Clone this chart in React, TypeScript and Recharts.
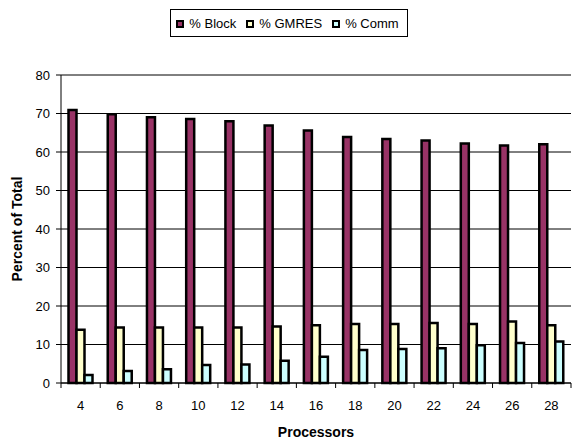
import React from 'react';
import { BarChart, Bar, XAxis, YAxis, CartesianGrid, Legend } from 'recharts';

// Share of total run time per phase, by processor count
const processors = [4, 6, 8, 10, 12, 14, 16, 18, 20, 22, 24, 26, 28];
const blockPct = [70.9, 69.8, 69.0, 68.6, 68.0, 66.9, 65.6, 63.9, 63.4, 63.0, 62.2, 61.7, 62.0];
const gmresPct = [13.8, 14.4, 14.4, 14.4, 14.4, 14.7, 15.0, 15.3, 15.3, 15.6, 15.3, 16.0, 15.0];
const commPct = [2.1, 3.1, 3.6, 4.7, 4.8, 5.8, 6.8, 8.6, 8.8, 9.0, 9.8, 10.4, 10.8];
const yTicks = [0, 10, 20, 30, 40, 50, 60, 70, 80];

const seriesKeys = ['block', 'gmres', 'comm'];
const seriesNames = ['% Block', '% GMRES', '% Comm'];
const seriesColors = ['#993366', '#FFFFCC', '#CCFFFF'];

const data = processors.map((p, i) => ({
  proc: p,
  block: blockPct[i],
  gmres: gmresPct[i],
  comm: commPct[i],
}));

const FONT = '"Liberation Sans", Arial, sans-serif';
const X_TICK_SIZE = 5;
const X_TICK_MARGIN = 13;

// Category label plus Excel-style tick marks on the band boundaries
const ProcTick = (props: any) => {
  const { x, y, payload, index, width, visibleTicksCount } = props;
  const half = width / visibleTicksCount / 2;
  const lineTop = y - X_TICK_MARGIN - X_TICK_SIZE;
  const lineBottom = y - X_TICK_MARGIN;
  return (
    <g>
      {index === 0 && (
        <line x1={x - half} x2={x - half} y1={lineTop} y2={lineBottom} stroke="#000" />
      )}
      <line x1={x + half} x2={x + half} y1={lineTop} y2={lineBottom} stroke="#000" />
      <text x={x} y={y} dy="0.71em" textAnchor="middle" fill="#000" fontSize={13} fontFamily={FONT}>
        {payload.value}
      </text>
    </g>
  );
};

const YTitle = (props: any) => {
  const vb = props.viewBox;
  const cx = vb.x + 17;
  const cy = vb.y + vb.height / 2;
  return (
    <text
      x={cx}
      y={cy}
      transform={`rotate(-90 ${cx} ${cy})`}
      textAnchor="middle"
      dominantBaseline="central"
      fontSize={14}
      fontWeight="bold"
      fontFamily={FONT}
      fill="#000"
    >
      {props.value}
    </text>
  );
};

const XTitle = (props: any) => {
  const vb = props.viewBox;
  return (
    <text
      x={vb.x + vb.width / 2}
      y={vb.y + 49}
      textAnchor="middle"
      dominantBaseline="central"
      fontSize={14}
      fontWeight="bold"
      fontFamily={FONT}
      fill="#000"
    >
      {props.value}
    </text>
  );
};

// Boxed legend, items kept in series order
const LegendBox = (props: any) => {
  const items = [...(props.payload || [])].sort(
    (a: any, b: any) => seriesNames.indexOf(a.value) - seriesNames.indexOf(b.value)
  );
  return (
    <div style={{ height: 66, display: 'flex', justifyContent: 'center', alignItems: 'flex-start', paddingLeft: 7 }}>
      <div
        style={{
          border: '1px solid #000',
          height: 26,
          display: 'flex',
          alignItems: 'center',
          padding: '0 8px 0 5px',
          background: '#fff',
          fontFamily: FONT,
          fontSize: 13,
          color: '#000',
          whiteSpace: 'nowrap',
        }}
      >
        {items.map((it: any, i: number) => (
          <span key={i} style={{ display: 'flex', alignItems: 'center', marginLeft: i === 0 ? 0 : 10 }}>
            <span
              style={{
                width: 4,
                height: 4,
                border: '2px solid #000',
                background: it.color,
                display: 'inline-block',
                marginRight: 5,
                marginTop: 1,
              }}
            />
            <span>{it.value}</span>
          </span>
        ))}
      </div>
    </div>
  );
};

export default function App() {
  return (
    <div style={{ position: 'absolute', left: 0, top: 0, background: '#fff', fontFamily: FONT }}>
      <BarChart
        width={572}
        height={439}
        data={data}
        margin={{ top: 9, right: 1, left: 0, bottom: 0 }}
        barGap={0}
        barCategoryGap={7.5}
      >
        <Legend verticalAlign="top" align="center" content={<LegendBox />} />
        <CartesianGrid vertical={false} stroke="#000" />
        <XAxis
          dataKey="proc"
          height={56}
          axisLine={{ stroke: '#000' }}
          tickLine={false}
          tickSize={X_TICK_SIZE}
          tickMargin={X_TICK_MARGIN}
          interval={0}
          tick={<ProcTick />}
          label={<XTitle value="Processors" />}
        />
        <YAxis
          width={61}
          domain={[0, 80]}
          ticks={yTicks}
          interval={0}
          axisLine={{ stroke: '#000' }}
          tickLine={{ stroke: '#000' }}
          tickSize={5}
          tickMargin={6}
          tick={{ fill: '#000', fontSize: 13, fontFamily: FONT }}
          label={<YTitle value="Percent of Total" />}
        />
        {seriesKeys.map((k, i) => (
          <Bar
            key={k}
            dataKey={k}
            name={seriesNames[i]}
            fill={seriesColors[i]}
            stroke="#000"
            strokeWidth={2.5}
            isAnimationActive={false}
          />
        ))}
      </BarChart>
    </div>
  );
}
